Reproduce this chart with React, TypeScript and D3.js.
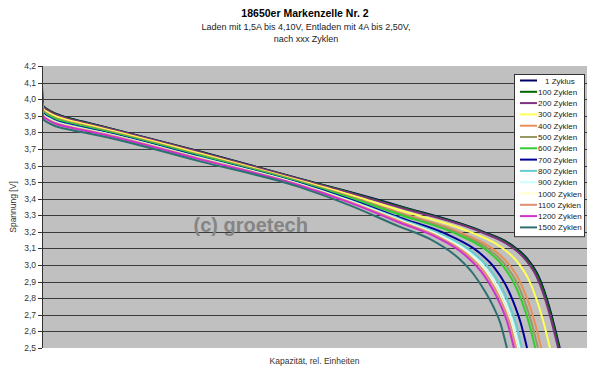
import React from "react";
import * as d3 from "d3";

type Pt = [number, number];

const title = "18650er Markenzelle Nr. 2";
const subtitle1 = "Laden mit 1,5A bis 4,10V, Entladen mit 4A bis 2,50V,";
const subtitle2 = "nach xxx Zyklen";
const yTitle = "Spannung [V]";
const xTitle = "Kapazität, rel. Einheiten";
const watermark = "(c) groetech";

const yTicks = [2.5, 2.6, 2.7, 2.8, 2.9, 3.0, 3.1, 3.2, 3.3, 3.4, 3.5, 3.6, 3.7, 3.8, 3.9, 4.0, 4.1, 4.2];

const z1: Pt[] = [[0, 4.08], [0.2, 3.96], [1.2, 3.935], [2.5, 3.912], [4.5, 3.89], [7.5, 3.865], [10.6, 3.84], [29, 3.685], [47.3, 3.52], [56.5, 3.44], [65.7, 3.355], [81, 3.2], [86, 3.125], [89, 3.04], [91, 2.94], [92.5, 2.81], [93.8, 2.66], [95, 2.5]];
const z100: Pt[] = [[0, 3.99], [0.2, 3.958], [1.2, 3.933], [2.5, 3.91], [4.5, 3.888], [7.5, 3.863], [10.6, 3.838], [29, 3.683], [47.3, 3.519], [56.5, 3.438], [65.7, 3.351], [80.9, 3.199], [85.9, 3.123], [88.9, 3.037], [90.9, 2.937], [92.4, 2.808], [93.7, 2.66], [94.9, 2.5]];
const z200: Pt[] = [[0, 4.05], [0.2, 3.954], [1.2, 3.93], [2.5, 3.907], [4.5, 3.885], [7.5, 3.86], [10.6, 3.836], [29, 3.681], [47.3, 3.517], [56.5, 3.434], [65.7, 3.346], [80.7, 3.197], [85.7, 3.119], [88.7, 3.033], [90.7, 2.933], [92.2, 2.806], [93.5, 2.659], [94.7, 2.5]];
const z300: Pt[] = [[0, 3.98], [0.2, 3.944], [1.2, 3.919], [2.5, 3.897], [4.5, 3.876], [7.5, 3.852], [10.6, 3.828], [29, 3.673], [47.3, 3.51], [56.5, 3.424], [65.7, 3.33], [79.2, 3.191], [84.2, 3.109], [87.2, 3.02], [89.2, 2.92], [90.7, 2.798], [92.0, 2.658], [93.2, 2.5]];
const z400: Pt[] = [[0, 3.97], [0.2, 3.934], [1.2, 3.909], [2.5, 3.887], [4.5, 3.867], [7.5, 3.844], [10.6, 3.82], [29, 3.665], [47.3, 3.504], [56.5, 3.414], [65.7, 3.314], [77.6, 3.185], [82.6, 3.099], [85.6, 3.007], [87.6, 2.907], [89.1, 2.79], [90.4, 2.657], [91.6, 2.5]];
const z500: Pt[] = [[0, 3.96], [0.2, 3.93], [1.2, 3.905], [2.5, 3.884], [4.5, 3.863], [7.5, 3.84], [10.6, 3.817], [29, 3.662], [47.3, 3.501], [56.5, 3.41], [65.7, 3.308], [77, 3.183], [82, 3.095], [85, 3.002], [87, 2.902], [88.5, 2.787], [89.8, 2.656], [91, 2.5]];
const z600: Pt[] = [[0, 3.96], [0.2, 3.926], [1.2, 3.902], [2.5, 3.881], [4.5, 3.861], [7.5, 3.838], [10.6, 3.815], [29, 3.66], [47.3, 3.499], [56.5, 3.406], [65.7, 3.303], [76.5, 3.181], [81.5, 3.091], [84.5, 2.998], [86.5, 2.898], [88, 2.785], [89.3, 2.656], [90.5, 2.5]];
const z700: Pt[] = [[0, 3.95], [0.2, 3.916], [1.2, 3.892], [2.5, 3.871], [4.5, 3.852], [7.5, 3.829], [10.6, 3.807], [29, 3.652], [47.3, 3.493], [56.5, 3.396], [65.7, 3.286], [75, 3.175], [80, 3.081], [83, 2.985], [85, 2.885], [86.5, 2.777], [87.8, 2.655], [89, 2.5]];
const z800: Pt[] = [[0, 4.0], [0.2, 3.91], [1.2, 3.887], [2.5, 3.866], [4.5, 3.847], [7.5, 3.825], [10.6, 3.803], [29, 3.648], [47.3, 3.489], [56.5, 3.39], [65.7, 3.278], [74.1, 3.172], [79.1, 3.075], [82.1, 2.978], [84.1, 2.878], [85.6, 2.773], [86.9, 2.654], [88.1, 2.5]];
const z900: Pt[] = [[0, 3.94], [0.2, 3.906], [1.2, 3.883], [2.5, 3.862], [4.5, 3.843], [7.5, 3.821], [10.6, 3.8], [29, 3.645], [47.3, 3.487], [56.5, 3.386], [65.7, 3.271], [73.6, 3.17], [78.6, 3.071], [81.6, 2.973], [83.6, 2.873], [85.1, 2.77], [86.4, 2.653], [87.6, 2.5]];
const z1000: Pt[] = [[0, 3.94], [0.2, 3.904], [1.2, 3.88], [2.5, 3.86], [4.5, 3.841], [7.5, 3.82], [10.6, 3.798], [29, 3.643], [47.3, 3.485], [56.5, 3.384], [65.7, 3.268], [73.2, 3.169], [78.2, 3.069], [81.2, 2.97], [83.2, 2.87], [84.7, 2.768], [86.0, 2.653], [87.2, 2.5]];
const z1100: Pt[] = [[0, 3.93], [0.2, 3.901], [1.2, 3.877], [2.5, 3.857], [4.5, 3.838], [7.5, 3.817], [10.6, 3.796], [29, 3.641], [47.3, 3.483], [56.5, 3.381], [65.7, 3.263], [73, 3.167], [78, 3.066], [81, 2.966], [83, 2.866], [84.5, 2.766], [85.8, 2.653], [87, 2.5]];
const z1200: Pt[] = [[0, 4.03], [0.2, 3.896], [1.2, 3.873], [2.5, 3.852], [4.5, 3.834], [7.5, 3.813], [10.6, 3.792], [29, 3.637], [47.3, 3.48], [56.5, 3.376], [65.7, 3.255], [72.6, 3.164], [77.6, 3.061], [80.6, 2.96], [82.6, 2.86], [84.1, 2.762], [85.4, 2.652], [86.6, 2.5]];
const z1500: Pt[] = [[0, 3.92], [0.2, 3.88], [1.2, 3.857], [2.5, 3.837], [4.5, 3.82], [7.5, 3.8], [10.6, 3.78], [29, 3.625], [47.3, 3.47], [56.5, 3.36], [65.7, 3.23], [71.3, 3.155], [76.3, 3.045], [79.3, 2.94], [81.3, 2.84], [82.8, 2.75], [84.1, 2.65], [85.3, 2.5]];

const seriesNames = ["1 Zyklus", "100 Zyklen", "200 Zyklen", "300 Zyklen", "400 Zyklen", "500 Zyklen", "600 Zyklen", "700 Zyklen", "800 Zyklen", "900 Zyklen", "1000 Zyklen", "1100 Zyklen", "1200 Zyklen", "1500 Zyklen"];
const seriesData = [z1, z100, z200, z300, z400, z500, z600, z700, z800, z900, z1000, z1100, z1200, z1500];
const seriesColors = ["#000066", "#006600", "#803080", "#ffff55", "#e8905a", "#999966", "#33cc33", "#000099", "#66cccc", "#ccffff", "#ffffcc", "#e09070", "#cc33cc", "#2e7070"];

const W = 600, H = 370;
const left = 42, right = 587, top = 66, bottom = 348;
const font = "'Liberation Sans', Arial, sans-serif";

export default function App() {
  const x = d3.scaleLinear().domain([0, 100]).range([left, right]);
  const y = d3.scaleLinear().domain([2.5, 4.2]).range([bottom, top]);
  const line = d3.line<Pt>().x(d => x(d[0])).y(d => y(d[1])).curve(d3.curveMonotoneX);
  const fmt = (v: number) => v.toFixed(1).replace(".", ",");
  const legX = 514, legY = 74, legW = 70, rowH = 11.3;

  return (
    <svg width={W} height={H} style={{ position: "absolute", left: 0, top: 0 }} fontFamily={font}>
      <rect x={0} y={0} width={W} height={H} fill="#ffffff" />
      <text x={305} y={17} textAnchor="middle" fontSize={10.5} fontWeight="bold" fill="#000">{title}</text>
      <text x={306} y={30} textAnchor="middle" fontSize={9} fill="#222">{subtitle1}</text>
      <text x={306} y={42} textAnchor="middle" fontSize={9} fill="#222">{subtitle2}</text>

      <rect x={left} y={top} width={right - left} height={bottom - top} fill="#c0c0c0" />
      {yTicks.filter(t => t > 2.55 && t < 4.15).map(t => (
        <line key={"g" + t} x1={left} x2={right} y1={Math.round(y(t)) + 0.5} y2={Math.round(y(t)) + 0.5} stroke="#3a3a3a" strokeWidth={1} />
      ))}
      <text x={x(27.8)} y={232} fontSize={20} fontWeight="bold" fill="#858585">{watermark}</text>

      <g clipPath="url(#clip)">
        {seriesData.map((s, i) => (
          <path key={seriesNames[i]} d={line(s) || ""} fill="none" stroke={seriesColors[i]} strokeWidth={2} />
        ))}
      </g>
      <defs>
        <clipPath id="clip"><rect x={left} y={top} width={right - left} height={bottom - top + 1} /></clipPath>
      </defs>

      <line x1={left + 0.5} x2={left + 0.5} y1={top} y2={bottom} stroke="#333" strokeWidth={1} />
      {yTicks.map(t => (
        <g key={"t" + t}>
          <line x1={left - 4} x2={left} y1={Math.round(y(t)) + 0.5} y2={Math.round(y(t)) + 0.5} stroke="#333" />
          <text x={36} y={y(t) + 3} textAnchor="end" fontSize={8.5} fill="#333">{fmt(t)}</text>
        </g>
      ))}
      <text transform={`translate(16,${(top + bottom) / 2}) rotate(-90)`} textAnchor="middle" fontSize={8.5} fill="#333">{yTitle}</text>
      <text x={(left + right) / 2} y={364} textAnchor="middle" fontSize={8.5} fill="#333">{xTitle}</text>

      <rect x={legX + 0.5} y={legY + 0.5} width={legW} height={rowH * 14 + 4} fill="#ffffff" stroke="#333" strokeWidth={1} />
      {seriesNames.map((n, i) => {
        const cy = legY + 6.5 + i * rowH;
        return (
          <g key={"l" + n}>
            <line x1={520} x2={537} y1={cy} y2={cy} stroke={seriesColors[i]} strokeWidth={2} />
            <text x={i === 0 ? 545 : 538} y={cy + 3} fontSize={8} fill="#222">{n}</text>
          </g>
        );
      })}
    </svg>
  );
}
